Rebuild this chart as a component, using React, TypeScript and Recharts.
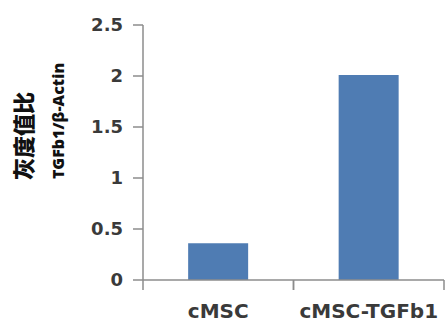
import React from 'react';
import { BarChart, Bar, XAxis, YAxis } from 'recharts';

const categories = ['cMSC', 'cMSC-TGFb1'];
const ratioValues = [0.36, 2.01];
const yTicks = [0, 0.5, 1, 1.5, 2, 2.5];

const data = categories.map((c, i) => ({ name: c, value: ratioValues[i] }));

const FONT = 'DejaVu Sans, sans-serif';
const CJK = 'Noto Sans CJK SC, sans-serif';
const AXIS = '#8c8c8c';

const YLabel = () => (
  <g>
    <text
      x={22}
      y={136}
      transform="rotate(-90 22 136)"
      textAnchor="middle"
      dominantBaseline="central"
      fontFamily={CJK}
      fontWeight={900}
      fontSize={22}
      fill="#111"
    >
      灰度值比
    </text>
    <text
      x={58}
      y={121}
      transform="rotate(-90 58 121)"
      textAnchor="middle"
      dominantBaseline="central"
      fontFamily="Open Sans, sans-serif"
      fontWeight={800}
      fontSize={16}
      fill="#111"
    >
      TGFb1/β-Actin
    </text>
  </g>
);

const XTick = (props: any) => {
  const { x, y, payload } = props;
  const half = payload && payload.offset ? payload.offset : 75;
  return (
    <g>
      <line x1={x - half} x2={x - half} y1={y} y2={y + 10} stroke={AXIS} strokeWidth={1.5} />
      <line x1={x + half} x2={x + half} y1={y} y2={y + 10} stroke={AXIS} strokeWidth={1.5} />
      <text
        x={x}
        y={y + 38}
        textAnchor="middle"
        fontFamily={FONT}
        fontWeight={700}
        fontSize={20}
        fill="#3a3a3a"
      >
        {payload.value}
      </text>
    </g>
  );
};

export default function App() {
  return (
    <div style={{ position: 'absolute', left: 0, top: 0, background: '#fff' }}>
      <BarChart
        width={447}
        height={326}
        data={data}
        margin={{ top: 25, right: 3, bottom: 0, left: 0 }}
        barCategoryGap="30%"
      >
        <XAxis
          dataKey="name"
          height={46}
          axisLine={{ stroke: AXIS, strokeWidth: 1.5 }}
          tickLine={false}
          tickSize={0}
          tickMargin={0}
          tick={<XTick />}
          interval={0}
        />
        <YAxis
          domain={[0, 2.5]}
          ticks={yTicks}
          width={143}
          axisLine={{ stroke: AXIS, strokeWidth: 1.5 }}
          tickLine={{ stroke: AXIS, strokeWidth: 1.5 }}
          tickSize={10}
          tickMargin={10}
          tick={{ fontFamily: FONT, fontSize: 18, fontWeight: 700, fill: '#3a3a3a' }}
          label={{ content: () => <YLabel /> }}
        />
        <Bar dataKey="value" fill="#4f7cb3" isAnimationActive={false} />
      </BarChart>
    </div>
  );
}
